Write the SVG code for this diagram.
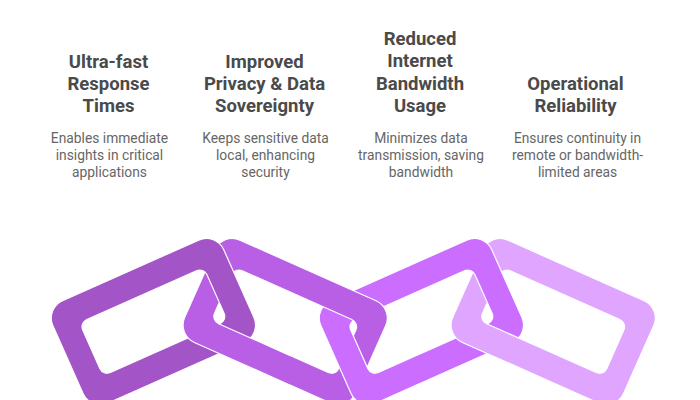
<svg xmlns="http://www.w3.org/2000/svg" xmlns:xlink="http://www.w3.org/1999/xlink" width="700" height="400" viewBox="0 0 700 400">
<style>
text{font-family:Roboto,"Liberation Sans",sans-serif;text-anchor:middle}
.t{font-size:18.5px;font-weight:700;fill:#4a4a4a}
.d{font-size:13.8px;font-weight:400;fill:#666666}
.l{stroke:#ffffff;stroke-width:1.2;fill-rule:evenodd}
</style>
<defs>
<path id="link" d="M-74.5-56H74.5A19 19 0 0 1 93.5-37V37A19 19 0 0 1 74.5 56H-74.5A19 19 0 0 1-93.5 37V-37A19 19 0 0 1-74.5-56ZM-60-29A8 8 0 0 0-68-21V21A8 8 0 0 0-60 29H60A8 8 0 0 0 68 21V-21A8 8 0 0 0 60-29Z"/>
<clipPath id="c2"><rect x="150" y="302.5" width="140" height="98"/></clipPath>
<clipPath id="c3"><rect x="300" y="335.8" width="120" height="65"/></clipPath>
<clipPath id="c4"><rect x="420" y="302.5" width="140" height="98"/></clipPath>
</defs>
<rect width="700" height="400" fill="#ffffff"/>
<g id="chain">
<use xlink:href="#link" class="l" fill="#E0A6FF" transform="translate(553.2 321.6) rotate(24)"/>
<use xlink:href="#link" class="l" fill="#CB6DFF" transform="translate(421.4 321.6) rotate(-24)"/>
<g clip-path="url(#c4)"><use xlink:href="#link" class="l" fill="#E0A6FF" transform="translate(553.2 321.6) rotate(24)"/></g>
<use xlink:href="#link" class="l" fill="#B85FE6" transform="translate(285.2 321.6) rotate(24)"/>
<g clip-path="url(#c3)"><use xlink:href="#link" class="l" fill="#CB6DFF" transform="translate(421.4 321.6) rotate(-24)"/></g>
<use xlink:href="#link" class="l" fill="#A355C8" transform="translate(153.4 321.6) rotate(-24)"/>
<g clip-path="url(#c2)"><use xlink:href="#link" class="l" fill="#B85FE6" transform="translate(285.2 321.6) rotate(24)"/></g>
</g>
<g id="node-1">
<text class="t" x="108.5" y="68">Ultra-fast</text><text class="t" x="108.5" y="90">Response</text><text class="t" x="108.5" y="112">Times</text>
<text class="d" x="109.5" y="143">Enables immediate</text><text class="d" x="109.5" y="160">insights in critical</text><text class="d" x="109.5" y="177">applications</text>
</g>
<g id="node-2">
<text class="t" x="264.5" y="68">Improved</text><text class="t" x="264.5" y="90">Privacy &amp; Data</text><text class="t" x="264.5" y="112">Sovereignty</text>
<text class="d" x="265.5" y="143">Keeps sensitive data</text><text class="d" x="265.5" y="160">local, enhancing</text><text class="d" x="265.5" y="177">security</text>
</g>
<g id="node-3">
<text class="t" x="420" y="45">Reduced</text><text class="t" x="420" y="67">Internet</text><text class="t" x="420" y="90">Bandwidth</text><text class="t" x="420" y="112">Usage</text>
<text class="d" x="421" y="143">Minimizes data</text><text class="d" x="421" y="160">transmission, saving</text><text class="d" x="421" y="177">bandwidth</text>
</g>
<g id="node-4">
<text class="t" x="575.5" y="90">Operational</text><text class="t" x="575.5" y="112">Reliability</text>
<text class="d" x="577.5" y="143">Ensures continuity in</text><text class="d" x="577.5" y="160">remote or bandwidth-</text><text class="d" x="577.5" y="177">limited areas</text>
</g>
</svg>
